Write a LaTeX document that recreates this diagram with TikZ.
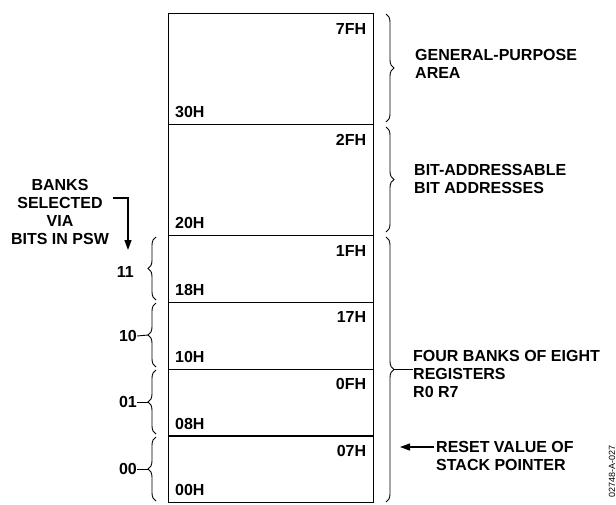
\documentclass[tikz,border=0pt]{standalone}
\usepackage{fontspec}
\setmainfont{Liberation Sans}
\usetikzlibrary{calc}
\usetikzlibrary{positioning}
\usetikzlibrary{arrows.meta}
\usetikzlibrary{decorations.pathreplacing}

\begin{document}
\begin{tikzpicture}[x=1pt,y=-1pt,>={Triangle[length=10pt,width=7pt]},
  font=\fontsize{16}{18}\selectfont\bfseries]
\tikzset{
  row/.style={draw,line width=1.3pt,minimum width=205pt,inner sep=0pt,anchor=north west},
  brc/.style={decorate,decoration={brace,amplitude=8pt},line width=0.9pt},
  lbl/.style={inner sep=0pt},
  txt/.style={inner sep=0pt,align=left,anchor=west}
}
\useasboundingbox (0,0) rectangle (616,504);

% memory map rows
\foreach \nm/\ytop/\hgt/\hadr/\ladr in {gp/13/111/7FH/30H, ba/124/111/2FH/20H,
    rb3/235/66.75/1FH/18H, rb2/301.75/66.75/17H/10H,
    rb1/368.5/66.75/0FH/08H, rb0/435.25/66.75/07H/00H} {
  \node[row,minimum height=\hgt pt] (\nm) at (168,\ytop) {};
  \node[lbl,anchor=north east] (\nm-hi) at ($(\nm.north east)+(-8,10)$) {\hadr};
  \node[lbl,anchor=south west] (\nm-lo) at ($(\nm.south west)+(7,-7)$) {\ladr};
}

% right braces
\draw[brc] (386,14) -- (386,122);
\draw[brc] (386,127) -- (386,232);
\draw[brc] (386,237) -- (386,502);
\coordinate (tipgp) at (394,68);
\coordinate (tipba) at (394,180);
\coordinate (tipbk) at (394,369);
\node[txt] (gptxt) at (415,64) {GENERAL-PURPOSE\\AREA};
\node[txt] (batxt) at (414,179) {BIT-ADDRESSABLE\\BIT ADDRESSES};
\node[txt] (bktxt) at (413,374) {FOUR BANKS OF EIGHT\\REGISTERS\\R0 R7};
\draw[line width=0.9pt] (tipbk) -- (tipbk -| bktxt.west);

% reset value of stack pointer
\node[txt] (rsttxt) at (436,456) {RESET VALUE OF\\STACK POINTER};
\coordinate (rstend) at (400,447);
\draw[->,line width=1.2pt] (rsttxt.west |- rstend) ++(-2,0) -- (rstend);

% bank select braces
\foreach \nm/\ya/\yb/\val in {rb3/237/300/11, rb2/303/367/10, rb1/370/434/01, rb0/437/501/00} {
  \draw[brc] (156,\yb) -- (156,\ya);
  \coordinate (tip\nm) at (148,{(\ya+\yb)/2});
}
\node[lbl,anchor=east] (sel11) at (134,272) {11};
\node[lbl,anchor=east] (sel10) at (137,336) {10};
\node[lbl,anchor=east] (sel01) at (137,402) {01};
\node[lbl,anchor=east] (sel00) at (137,469) {00};
\draw[line width=0.9pt] (sel10.east) -- (tiprb2);
\draw[line width=0.9pt] (sel01.east) -- (tiprb1);
\draw[line width=0.9pt] (sel00.east) -- (tiprb0);

% banks selected via psw
\node[lbl,align=center] (psw) at (60,212) {BANKS\\SELECTED\\VIA\\BITS IN PSW};
\coordinate (pswa) at (113,198);
\coordinate (pswb) at (128,198);
\coordinate (pswc) at (128,250);
\draw[->,line width=1.2pt] (pswa) -- (pswb) -- (pswc);

\node[lbl,rotate=90,font=\fontsize{9}{10}\selectfont] (figid) at (612,471) {02748-A-027};
\end{tikzpicture}
\end{document}
